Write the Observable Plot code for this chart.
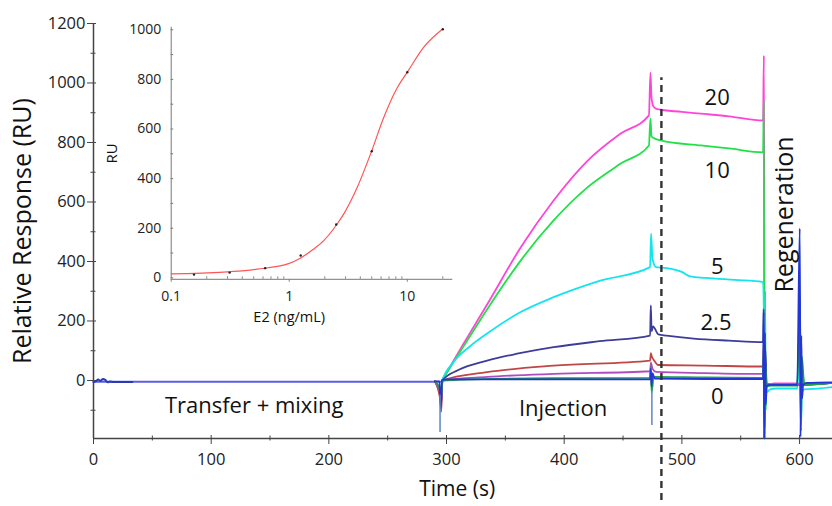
<!DOCTYPE html>
<html>
<head>
<meta charset="utf-8">
<script src="https://cdn.jsdelivr.net/npm/d3@7"></script>
<script src="https://cdn.jsdelivr.net/npm/@observablehq/plot@0.6"></script>
<style>
  body { margin: 0; background: white; }
  #wrap { position: relative; width: 832px; height: 506px; overflow: hidden; }
  #inset { position: absolute; left: 100px; top: 0px; }
</style>
</head>
<body>
<div id="wrap"><div id="main"></div><div id="inset"></div></div>
<script>
// ---------- main sensorgram data (time s, response RU) ----------
const tBase = [0, 296];
const vBase = [-4, -4];
const tEarly = [0, 2, 4, 6, 8, 10, 12, 14, 17, 20, 25, 33];
const vEarly = [-5, -2, 3, -1, 5, 2, -6, -3, -5, -5, -5, -5];

const t0 = [290, 294, 294.6, 295.3, 296, 300, 350, 420, 473, 473.6, 474.2, 475, 477, 520, 569, 569.5, 570, 570.6, 571.3, 572, 574, 580, 598, 600.2, 600.8, 601.5, 602.2, 603, 606, 628];
const v0 = [-3, -3, -60, -90, 2, 4, 4, 4, 4, 40, -20, 25, 6, 5, 5, 230, -195, 160, -80, -20, -15, -15, -15, 511, -190, 150, -60, -15, -8, -6];

const t03 = [290, 294.5, 295.5, 296.5, 391, 473, 473.6, 474.3, 476, 520, 569, 569.5, 570.1, 570.8, 572, 576, 598, 600.4, 601.2, 602, 604, 628];
const v03 = [-3, -30, -60, 0, 8, 9, 45, -40, 12, 10, 9, 100, -195, 60, -20, -17, -17, 280, -170, 80, -15, -8];

const t06 = [290, 294.5, 295.5, 296.5, 334.5, 391, 473, 473.7, 475, 478, 520, 569, 569.5, 570.2, 571, 575, 598, 628];
const v06 = [-3, -40, -70, 0, 12, 22, 31, 60, 40, 29, 25, 22, 60, -120, -15, -12, -12, -8];

const t12 = [290, 294.5, 295.5, 296.5, 334.5, 391, 473, 473.7, 474.5, 476, 480, 520, 569, 569.5, 570.2, 571, 575, 598, 628];
const v12 = [-3, -60, -105, 0, 28, 50, 67, 92, 80, 70, 52, 50, 47, 120, -160, -20, -15, -15, -8];

const t25 = [290, 294.5, 295.5, 296.5, 310, 334.5, 360, 391, 430, 473, 473.6, 474.3, 475.5, 480, 487, 510, 540, 569, 569.5, 570.2, 571, 572, 575, 598, 628];
const v25 = [-3, -50, -80, 0, 35, 67, 90, 112, 132, 151, 252, 165, 182, 155, 151, 141, 134, 129, 240, -195, 100, -20, -15, -15, -8];

const t5 = [290, 294.5, 295.5, 296.5, 306, 320, 334.5, 363, 391, 430, 473, 473.8, 475, 478, 487, 500, 507, 520, 545, 569, 569.6, 570.4, 571.2, 572, 575, 580, 598, 600.5, 601.3, 602, 604, 615, 628];
const v5 = [-3, -40, -70, 0, 62, 115, 158, 230, 280, 335, 381, 494, 410, 381, 378, 365, 350, 345, 338, 331, 250, -180, 60, -40, -30, -27, -27, 120, -150, -40, -30, -27, -22];

const t10 = [290, 294.5, 295.5, 296.5, 300, 305, 315, 335, 363, 391, 420, 448, 472, 473.3, 474.2, 476, 482, 516, 540, 569, 569.6, 570.1, 570.7, 571.3, 572, 575, 578, 598, 600.4, 601.2, 602, 604, 628];
const v10 = [-3, -40, -60, 0, 24, 56, 118, 242, 403, 538, 650, 729, 790, 881, 820, 815, 807, 790, 780, 767, 940, -195, 300, -100, -20, -15, -15, -15, 150, -120, 40, -12, -8];

const t20 = [290, 294.5, 295.5, 296.5, 300, 305, 315, 335, 363, 391, 420, 448, 472, 473.3, 474.2, 476, 479, 500, 516, 540, 569, 569.7, 570.4, 571.2, 572, 575, 578, 598, 628];
const v20 = [-3, -30, -50, 0, 26, 60, 127, 259, 447, 605, 739, 830, 891, 1035, 950, 920, 912, 903, 897, 888, 874, 1092, -20, 60, -10, -12, -10, -10, -8];

// detached injection artefacts (time, low, high)
const artT = [294.5, 474.5];
const artLo = [-175, -151];
const artHi = [-50, -34];

const injectionEnd = 482.6;

const yMajor = [0, 200, 400, 600, 800, 1000, 1200];
const yMinor = [-100, 100, 300, 500, 700, 900, 1100];
const xMajor = [0, 100, 200, 300, 400, 500, 600];
const xMinor = [50, 150, 250, 350, 450, 550];

// ---------- inset calibration data ----------
const ptsConc = [0.156, 0.3125, 0.625, 1.25, 2.5, 5, 10, 20];
const ptsRU = [13, 21, 39, 90, 215, 510, 829, 1002];
const fitConc = [0.1, 0.279, 0.536, 1.0, 1.25, 1.6, 1.96, 2.5, 2.9, 3.77, 4.98, 6.34, 8.2, 10, 13.8, 19.8];
const fitRU = [16, 23, 35, 58, 80, 115, 150, 212, 258, 365, 510, 648, 765, 829, 930, 1002];
const insetYTicks = [0, 200, 400, 600, 800, 1000];
const insetXTicks = [0.1, 1, 10];
const insetXMinor = [0.2, 0.3, 0.4, 0.5, 0.6, 0.7, 0.8, 0.9, 2, 3, 4, 5, 6, 7, 8, 9, 20];

const pts = (ts, vs) => ts.map((t, i) => ({t, v: vs[i]}));
const none = () => "";
const plain = d => String(d);
const FONT = "Open Sans";

const series = [
  [t20, v20, "#ff44d8"],
  [t10, v10, "#22e048"],
  [t5, v5, "#14e4ee"],
  [t25, v25, "#3c3c9a"],
  [t12, v12, "#c04646"],
  [t06, v06, "#b04cc0"],
  [t03, v03, "#1f9f45"],
  [t0, v0, "#2236d8"]
];

const main = Plot.plot({
  width: 832, height: 506,
  marginLeft: 93, marginRight: 0, marginTop: 23, marginBottom: 68,
  x: {domain: [0, 628]},
  y: {domain: [-195, 1200]},
  style: {fontFamily: FONT, background: "white", color: "#222", overflow: "visible"},
  marks: [
    Plot.ruleX([0], {stroke: "#444", strokeWidth: 1.5}),
    Plot.ruleY([-195], {stroke: "#444", strokeWidth: 1.5}),
    Plot.axisY(yMajor, {tickSize: 9, dx: 3, tickFormat: none, label: null, stroke: "#444"}),
    Plot.axisY(yMinor, {tickSize: 5, dx: 2.5, tickFormat: none, label: null, stroke: "#444"}),
    Plot.axisY(yMajor, {tickSize: 0, tickPadding: 8, fontSize: 16.5, label: null, tickFormat: plain}),
    Plot.axisX(xMajor, {tickSize: 9, dy: -3, tickFormat: none, label: null, stroke: "#444"}),
    Plot.axisX(xMinor, {tickSize: 5, dy: -2.5, tickFormat: none, label: null, stroke: "#444"}),
    Plot.axisX(xMajor, {tickSize: 0, tickPadding: 15, fontSize: 16.5, label: null, tickFormat: plain}),
    Plot.line(pts(tBase, vBase), {x: "t", y: "v", stroke: "#5b5ee6", strokeWidth: 2}),
    Plot.line(pts(tEarly, vEarly), {x: "t", y: "v", stroke: "#2a3ab0", strokeWidth: 2, curve: "monotone-x"}),
    ...series.map(([ts, vs, c]) => Plot.line(pts(ts, vs), {x: "t", y: "v", stroke: c, strokeWidth: 1.8, curve: "monotone-x"})),
    Plot.ruleX(artT.map((t, i) => ({t, lo: artLo[i], hi: artHi[i]})), {x: "t", y1: "lo", y2: "hi", stroke: "#5a86c8", strokeWidth: 1.5}),
    Plot.ruleX([injectionEnd], {y1: -403, y2: 1018, stroke: "#333", strokeWidth: 2.4, strokeDasharray: "7,5"}),
    Plot.text([{t: 530, v: 951, s: "20"}, {t: 530, v: 706, s: "10"}, {t: 530, v: 383, s: "5"}, {t: 529, v: 195, s: "2.5"}, {t: 530, v: -57, s: "0"}],
      {x: "t", y: "v", text: "s", fontSize: 22, fill: "#111"}),
    Plot.text([{t: 136.5, v: -84, s: "Transfer + mixing"}, {t: 399, v: -94, s: "Injection"}],
      {x: "t", y: "v", text: "s", fontSize: 22, fill: "#111"}),
    Plot.text([{t: 588, v: 558, s: "Regeneration"}], {x: "t", y: "v", text: "s", fontSize: 25, rotate: -90, fill: "#111"}),
    Plot.text(["Relative Response (RU)"], {frameAnchor: "left", textAnchor: "middle", dx: -71, rotate: -90, fontSize: 25, fill: "#111"}),
    Plot.text([{t: 309}], {x: "t", frameAnchor: "bottom", dy: 57, text: () => "Time (s)", fontSize: 21, fill: "#111"})
  ]
});
document.getElementById("main").appendChild(main);

const inset = Plot.plot({
  width: 360, height: 340,
  marginLeft: 70.7, marginRight: 7.7, marginTop: 26.8, marginBottom: 61.2,
  x: {type: "log", domain: [0.1, 24.3]},
  y: {domain: [-6, 1010]},
  style: {fontFamily: FONT, background: "transparent", color: "#222", overflow: "visible"},
  marks: [
    Plot.ruleX([0.1], {stroke: "#777", strokeWidth: 1}),
    Plot.ruleY([-6], {stroke: "#777", strokeWidth: 1}),
    Plot.axisY(d3.range(0, 1001, 100), {tickSize: -2.5, tickFormat: none, label: null, stroke: "#777"}),
    Plot.axisY(insetYTicks, {tickSize: 0, tickPadding: 10, fontSize: 14, label: null, tickFormat: plain}),
    Plot.axisX(insetXMinor, {tickSize: -2.5, tickFormat: none, label: null, stroke: "#888"}),
    Plot.axisX(insetXTicks, {tickSize: 3, tickFormat: none, label: null, stroke: "#888"}),
    Plot.axisX(insetXTicks, {tickSize: 0, tickPadding: 12, fontSize: 14, label: null, tickFormat: plain}),
    Plot.line(pts(fitConc, fitRU), {x: "t", y: "v", stroke: "#ff5555", strokeWidth: 1.2, curve: "monotone-x"}),
    Plot.dot(pts(ptsConc, ptsRU), {x: "t", y: "v", r: 1.2, fill: "#222"}),
    Plot.text(["RU"], {frameAnchor: "left", textAnchor: "middle", dx: -59, rotate: -90, fontSize: 15, fill: "#111"}),
    Plot.text([{t: 1}], {x: "t", frameAnchor: "bottom", dy: 43, text: () => "E2 (ng/mL)", fontSize: 14.5, fill: "#111"})
  ]
});
document.getElementById("inset").appendChild(inset);
</script>
</body>
</html>
